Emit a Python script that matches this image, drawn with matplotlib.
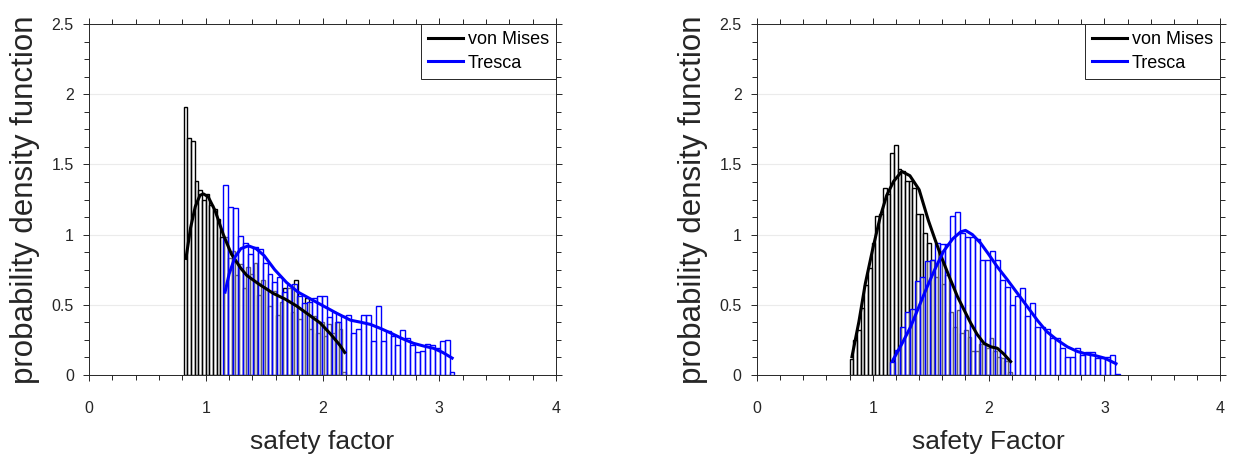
import numpy as np
import matplotlib.pyplot as plt
from matplotlib.ticker import MultipleLocator, FuncFormatter

plt.rcParams['font.family'] = ['Liberation Sans', 'DejaVu Sans']

# ---- left panel ("safety factor") ----
vm1_range = (0.81, 2.20)
vm1_hist = [1.91, 1.69, 1.67, 1.38, 1.32, 1.25, 1.29, 1.21, 1.18, 1.11, 0.98,
            0.98, 0.83, 0.88, 0.71, 0.79, 0.62, 0.77, 0.72, 0.80, 0.57, 0.68,
            0.62, 0.49, 0.60, 0.43, 0.52, 0.62, 0.62, 0.45, 0.68, 0.40, 0.46,
            0.55, 0.33, 0.42, 0.30, 0.38, 0.28, 0.36, 0.30, 0.38, 0.33, 0.02]
tr1_range = (1.15, 3.13)
tr1_hist = [1.35, 1.20, 1.19, 0.99, 0.94, 0.86, 0.91, 0.90, 0.80, 0.72, 0.66,
            0.70, 0.59, 0.64, 0.65, 0.56, 0.51, 0.52, 0.55, 0.56, 0.56, 0.41,
            0.45, 0.38, 0.42, 0.43, 0.30, 0.33, 0.43, 0.43, 0.24, 0.49, 0.24,
            0.31, 0.28, 0.21, 0.32, 0.26, 0.21, 0.16, 0.17, 0.22, 0.21, 0.19,
            0.24, 0.25, 0.02]
vm1_fit_x = [0.83, 0.87, 0.91, 0.95, 0.98, 1.02, 1.08, 1.15, 1.22, 1.30, 1.35,
             1.45, 1.58, 1.68, 1.78, 1.88, 1.98, 2.07, 2.15, 2.19]
vm1_fit_y = [0.83, 1.05, 1.20, 1.28, 1.29, 1.27, 1.17, 1.00, 0.86, 0.76, 0.71,
             0.65, 0.58, 0.54, 0.49, 0.43, 0.37, 0.29, 0.21, 0.16]
tr1_fit_x = [1.165, 1.20, 1.25, 1.30, 1.365, 1.43, 1.50, 1.59, 1.69, 1.79, 1.90,
             2.01, 2.12, 2.24, 2.33, 2.41, 2.50, 2.58, 2.68, 2.78, 2.87, 2.95,
             3.03, 3.11]
tr1_fit_y = [0.59, 0.72, 0.84, 0.90, 0.92, 0.90, 0.85, 0.75, 0.66, 0.59, 0.54,
             0.49, 0.44, 0.39, 0.375, 0.36, 0.33, 0.30, 0.26, 0.225, 0.205, 0.19,
             0.16, 0.12]

# ---- right panel ("safety Factor") ----
vm2_range = (0.80, 2.20)
vm2_hist = [0.11, 0.25, 0.32, 0.48, 0.64, 0.76, 0.94, 1.13, 1.15, 1.33, 1.29,
            1.58, 1.64, 1.47, 1.45, 1.38, 1.38, 1.33, 1.15, 1.15, 1.01, 0.94,
            0.82, 0.70, 0.88, 0.65, 0.71, 0.45, 0.34, 0.46, 0.30, 0.32, 0.27,
            0.17, 0.17, 0.22, 0.22, 0.19, 0.26, 0.17, 0.13, 0.12, 0.10, 0.02]
tr2_range = (1.15, 3.13)
tr2_hist = [0.09, 0.18, 0.34, 0.45, 0.47, 0.67, 0.70, 0.81, 0.82, 0.94, 0.93,
            0.93, 1.13, 1.16, 1.01, 0.985, 0.98, 0.97, 0.82, 0.82, 0.88, 0.82,
            0.68, 0.63, 0.50, 0.56, 0.62, 0.42, 0.51, 0.34, 0.34, 0.325, 0.26,
            0.26, 0.19, 0.13, 0.13, 0.19, 0.14, 0.16, 0.16, 0.12, 0.12, 0.13,
            0.14, 0.01]
vm2_fit_x = [0.82, 0.88, 0.935, 1.00, 1.065, 1.12, 1.18, 1.25, 1.32, 1.40, 1.48,
             1.535, 1.585, 1.66, 1.73, 1.79, 1.845, 1.90, 1.96, 2.02, 2.075,
             2.13, 2.19]
vm2_fit_y = [0.13, 0.38, 0.65, 0.90, 1.13, 1.28, 1.38, 1.45, 1.42, 1.32, 1.10,
             0.97, 0.855, 0.70, 0.56, 0.46, 0.37, 0.29, 0.225, 0.20, 0.19,
             0.15, 0.095]
tr2_fit_x = [1.17, 1.25, 1.325, 1.40, 1.47, 1.54, 1.61, 1.69, 1.76, 1.80, 1.86,
             1.93, 2.00, 2.075, 2.16, 2.25, 2.34, 2.42, 2.50, 2.59, 2.68, 2.77,
             2.84, 2.91, 3.00, 3.10]
tr2_fit_y = [0.10, 0.22, 0.34, 0.49, 0.63, 0.76, 0.88, 0.97, 1.02, 1.03, 1.00,
             0.94, 0.86, 0.77, 0.68, 0.58, 0.48, 0.39, 0.31, 0.25, 0.20, 0.166,
             0.15, 0.14, 0.12, 0.08]

BLUE = '#0000ff'
AXC = '#262626'


def draw_hist(ax, rng, vals, color):
    edges = np.linspace(rng[0], rng[1], len(vals) + 1)
    ax.bar(edges[:-1], vals, width=np.diff(edges), align='edge',
           facecolor=(1, 1, 1, 0.4), edgecolor=color, linewidth=1.0)


def style_axes(ax, xlabel):
    ax.set_xlim(0, 4)
    ax.set_ylim(0, 2.5)
    ax.xaxis.set_major_locator(MultipleLocator(1))
    ax.xaxis.set_minor_locator(MultipleLocator(0.2))
    ax.yaxis.set_major_locator(MultipleLocator(0.5))
    ax.yaxis.set_minor_locator(MultipleLocator(0.125))
    ax.yaxis.set_major_formatter(FuncFormatter(lambda v, p: f'{v:g}'))
    ax.tick_params(which='both', direction='out', top=True, right=True,
                   colors=AXC, labelsize=11.5, width=0.7)
    ax.tick_params(which='major', length=4)
    ax.tick_params(which='minor', length=3.5)
    ax.tick_params(axis='x', which='major', pad=15)
    ax.tick_params(axis='y', which='major', pad=7)
    ax.grid(axis='y', which='major', color='#ebebeb', linewidth=0.8)
    ax.set_axisbelow(True)
    for s in ax.spines.values():
        s.set_color(AXC)
        s.set_linewidth(0.7)
    ax.set_xlabel(xlabel, fontsize=19, color=AXC, labelpad=10)
    ax.set_ylabel('probability density function', fontsize=22.5, color=AXC,
                  labelpad=8)
    leg = ax.legend(loc='upper right', borderaxespad=0, fancybox=False,
                    edgecolor=AXC, framealpha=1, fontsize=13,
                    handlelength=1.95, handletextpad=0.25, borderpad=0.4,
                    labelspacing=0.35)
    leg.get_frame().set_linewidth(0.7)


fig = plt.figure(figsize=(12.42, 4.55), dpi=100)
ax1 = fig.add_axes([0.0717, 0.176, 0.376, 0.771])
ax2 = fig.add_axes([0.6095, 0.176, 0.373, 0.771])

panels = [
    (ax1, vm1_range, vm1_hist, tr1_range, tr1_hist,
     vm1_fit_x, vm1_fit_y, tr1_fit_x, tr1_fit_y, 'safety factor'),
    (ax2, vm2_range, vm2_hist, tr2_range, tr2_hist,
     vm2_fit_x, vm2_fit_y, tr2_fit_x, tr2_fit_y, 'safety Factor'),
]

for ax, vr, vh, tr, th, vx, vy, tx, ty, xl in panels:
    draw_hist(ax, vr, vh, 'black')
    draw_hist(ax, tr, th, BLUE)
    ax.plot(vx, vy, color='black', linewidth=2.2, label='von Mises')
    ax.plot(tx, ty, color=BLUE, linewidth=2.2, label='Tresca')
    style_axes(ax, xl)

fig.savefig('out.png', dpi=100)
